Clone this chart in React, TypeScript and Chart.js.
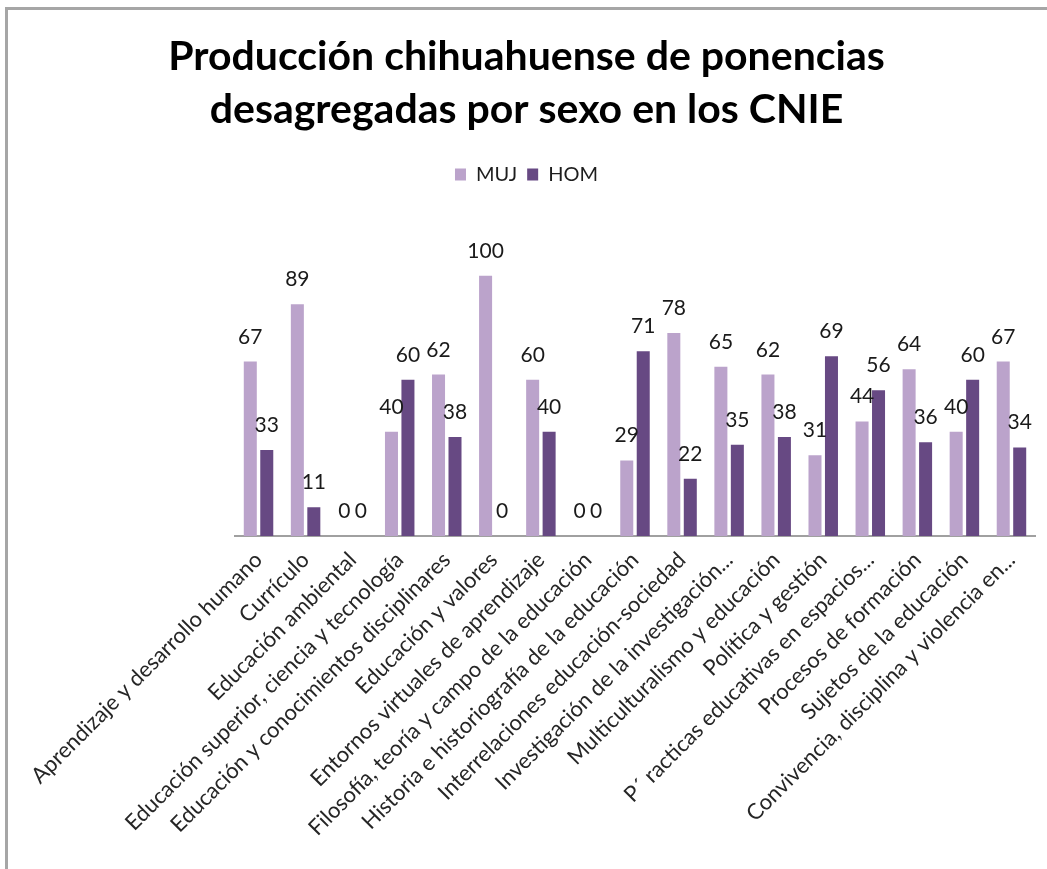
import React, { useEffect, useRef } from "react";
import { Chart, registerables } from "chart.js";

Chart.register(...registerables);

const TITLE_LINES = ["Producción chihuahuense de ponencias", "desagregadas por sexo en los CNIE"];

const CATEGORIES = [
  "Aprendizaje y desarrollo humano",
  "Currículo",
  "Educación ambiental",
  "Educación superior, ciencia y tecnología",
  "Educación y conocimientos disciplinares",
  "Educación y valores",
  "Entornos virtuales de aprendizaje",
  "Filosofía, teoría y campo de la educación",
  "Historia e historiografía de la educación",
  "Interrelaciones educación-sociedad",
  "Investigación de la investigación...",
  "Multiculturalismo y educación",
  "Política y gestión",
  "P´ racticas educativas en espacios...",
  "Procesos de formación",
  "Sujetos de la educación",
  "Convivencia, disciplina y violencia en...",
];

const MUJ = [67, 89, 0, 40, 62, 100, 60, 0, 29, 78, 65, 62, 31, 44, 64, 40, 67];
const HOM = [33, 11, 0, 60, 38, 0, 40, 0, 71, 22, 35, 38, 69, 56, 36, 60, 34];

const SERIES_NAMES = ["MUJ", "HOM"];
const COLORS = ["#BBA3CB", "#674983"];

const LEGEND_GAP = 29;

const legendGap = {
  id: "legendGap",
  beforeLayout(chart: any) {
    const lg = chart.legend;
    if (lg && !lg._gapPatched) {
      const orig = lg.fit;
      lg.fit = function (this: any) {
        orig.call(this);
        this.height += LEGEND_GAP;
      };
      lg._gapPatched = true;
    }
  },
};

const dataLabels = {
  id: "dataLabels",
  afterDatasetsDraw(chart: any) {
    const ctx = chart.ctx;
    ctx.save();
    ctx.font = "21px Lato";
    ctx.fillStyle = "#1a1a1a";
    ctx.textAlign = "center";
    ctx.textBaseline = "alphabetic";
    chart.data.datasets.forEach((ds: any, di: number) => {
      const meta = chart.getDatasetMeta(di);
      meta.data.forEach((el: any, i: number) => {
        ctx.fillText(String(ds.data[i]), el.x, el.y - 18);
      });
    });
    ctx.restore();
  },
};

export default function App() {
  const ref = useRef<HTMLCanvasElement | null>(null);

  useEffect(() => {
    document.body.style.margin = "0";
    document.body.style.overflow = "hidden";
    const canvas = ref.current!;
    const chart = new Chart(canvas, {
      type: "bar",
      data: {
        labels: CATEGORIES,
        datasets: [
          {
            label: SERIES_NAMES[0],
            data: MUJ,
            backgroundColor: COLORS[0],
            categoryPercentage: 0.7,
            barPercentage: 0.79,
          },
          {
            label: SERIES_NAMES[1],
            data: HOM,
            backgroundColor: COLORS[1],
            categoryPercentage: 0.7,
            barPercentage: 0.79,
          },
        ],
      },
      options: {
        animation: false,
        responsive: false,
        maintainAspectRatio: false,
        layout: { padding: { left: 10, right: 12, top: 0, bottom: 25 } },
        plugins: {
          title: {
            display: true,
            text: TITLE_LINES,
            color: "#000000",
            font: { family: "Lato", size: 41, weight: "bold", lineHeight: 1.3 },
            padding: { top: 20, bottom: 18 },
          },
          legend: {
            display: true,
            position: "top",
            labels: {
              color: "#1e1e1e",
              font: { family: "Lato", size: 20 },
              boxWidth: 11,
              boxHeight: 12,
              padding: 10,
            },
          },
          tooltip: { enabled: false },
        },
        scales: {
          x: {
            grid: { display: false },
            border: { display: true, color: "#A0A0A0", width: 2 },
            ticks: {
              autoSkip: false,
              minRotation: 45,
              maxRotation: 45,
              color: "#262626",
              font: { family: "Lato", size: 22 },
            },
          },
          y: {
            display: true,
            min: 0,
            max: 120,
            grid: { display: false },
            border: { display: false },
            ticks: { display: false },
            afterFit(scale: any) {
              scale.width = 217;
            },
          },
        },
      },
      plugins: [legendGap, dataLabels],
    });
    return () => chart.destroy();
  }, []);

  return (
    <div
      style={{
        position: "absolute",
        left: 5,
        top: 7,
        width: 1100,
        height: 900,
        borderLeft: "3px solid #A6A6A6",
        borderTop: "3px solid #A6A6A6",
        background: "#fff",
      }}
    >
      <canvas ref={ref} width={1039} height={859} style={{ display: "block" }} />
    </div>
  );
}
